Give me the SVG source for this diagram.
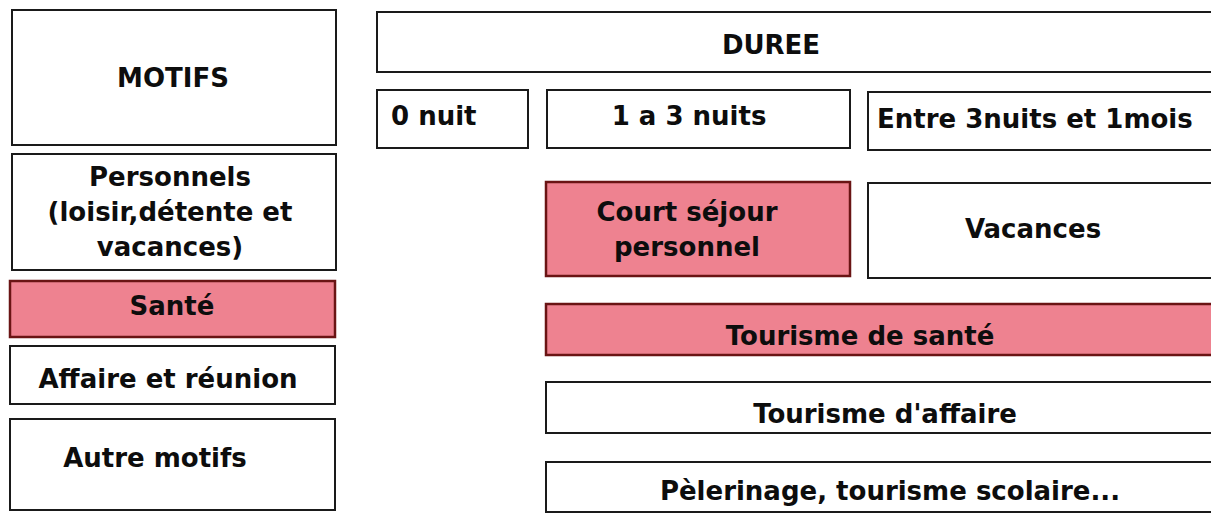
<svg xmlns="http://www.w3.org/2000/svg" width="1211" height="513" viewBox="0 0 1211 513">
<style>
.b{fill:#ffffff;stroke:#1a1a1a;stroke-width:2}
.p{fill:#ee8290;stroke:#6a1414;stroke-width:2.5}
text{font-family:"DejaVu Sans","Verdana",sans-serif;font-weight:bold;font-size:26px;fill:#0d0d0d}
.c{text-anchor:middle}
</style>
<rect width="1211" height="513" fill="#ffffff"/>
<g id="motifs"><rect class="b" x="12" y="10" width="324" height="135"/><text class="c" x="173" y="87">MOTIFS</text></g>
<g id="duree"><rect class="b" x="377" y="12" width="840" height="60"/><text class="c" x="771" y="54">DUREE</text></g>
<g id="nuit0"><rect class="b" x="377" y="90" width="151" height="58"/><text x="391" y="125">0 nuit</text></g>
<g id="nuits13"><rect class="b" x="547" y="90" width="303" height="58"/><text class="c" x="689" y="125">1 a 3 nuits</text></g>
<g id="entre"><rect class="b" x="868" y="92" width="350" height="58"/><text x="877" y="128">Entre 3nuits et 1mois</text></g>
<g id="personnels"><rect class="b" x="12" y="154" width="324" height="116"/><text class="c" x="170" y="186">Personnels</text><text class="c" x="170" y="221">(loisir,détente et</text><text class="c" x="170" y="256">vacances)</text></g>
<g id="sante"><rect class="p" x="10" y="281" width="325" height="56"/><text class="c" x="172" y="315">Santé</text></g>
<g id="affaire"><rect class="b" x="10" y="346" width="325" height="58"/><text class="c" x="168" y="388">Affaire et réunion</text></g>
<g id="autre"><rect class="b" x="10" y="419" width="325" height="91"/><text class="c" x="155" y="467">Autre motifs</text></g>
<g id="court"><rect class="p" x="546" y="182" width="304" height="94"/><text class="c" x="687" y="221">Court séjour</text><text class="c" x="687" y="256">personnel</text></g>
<g id="vacances"><rect class="b" x="868" y="183" width="350" height="95"/><text class="c" x="1033" y="238">Vacances</text></g>
<g id="tsante"><rect class="p" x="546" y="304" width="672" height="51"/><text class="c" x="860" y="345">Tourisme de santé</text></g>
<g id="taffaire"><rect class="b" x="546" y="382" width="672" height="51"/><text class="c" x="885" y="423">Tourisme d'affaire</text></g>
<g id="pelerinage"><rect class="b" x="546" y="462" width="672" height="50"/><text class="c" x="890" y="500">Pèlerinage, tourisme scolaire...</text></g>
<g id="connectors"></g>
</svg>
